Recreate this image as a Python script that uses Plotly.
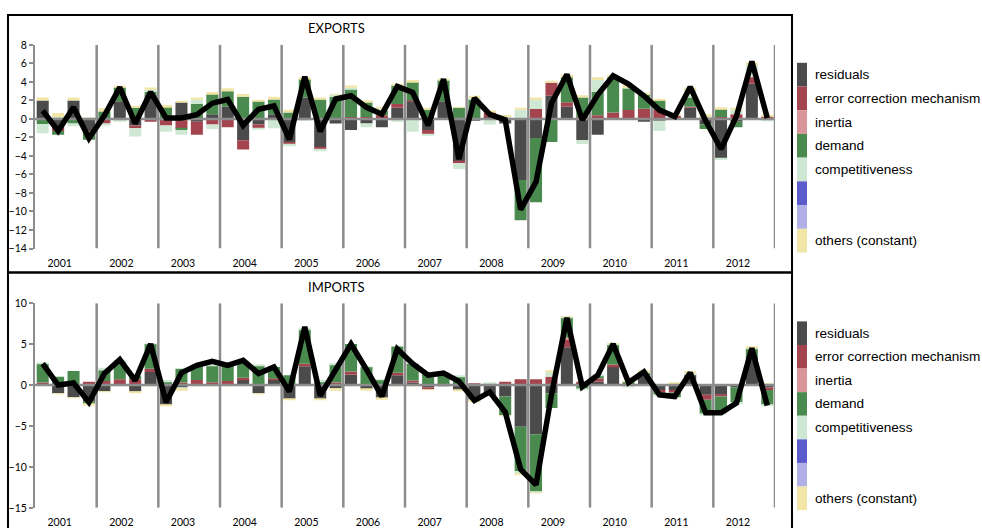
import plotly.graph_objects as go

# Quarterly contributions to growth, 2001Q1 .. 2012Q4 (48 quarters)
quarters = list(range(48))
years = [str(y) for y in range(2001, 2013)]

legend_labels = ["residuals", "error correction mechanism", "inertia", "demand",
                 "competitiveness", "", "", "others (constant)"]
legend_colors = ["#4b4b4b", "#a4444f", "#d8969b", "#4b8a4f", "#cfe8d3",
                 "#5b5bcc", "#b0afe6", "#f1e5a7"]

# ---- EXPORTS ----
exp_residuals = [2.0, -0.8, 2.0, -1.3, 0.0, 1.9, -0.7, 2.6, 0.0, 1.8, -0.3, 0.5,
                 1.3, -2.3, -0.6, 0.5, -2.5, 2.3, -3.1, -0.5, -1.2, -0.5, -0.9, 1.2,
                 1.9, -1.2, 1.9, -4.6, -0.2, 0.2, -0.5, -6.6, -2.05, 2.5, 1.3, -2.3,
                 -1.7, -0.1, 0.0, -0.3, -0.2, -0.1, 1.2, -0.6, -4.3, -0.3, 3.8, 0.1]
exp_ecm = [0.0, -0.5, 0.0, -0.05, -0.5, -0.2, -0.3, -0.3, -0.7, -1.0, -1.4, -0.6,
           -0.9, -1.0, -0.4, -0.1, -0.3, 0.0, -0.2, 0.0, 0.2, 0.2, 0.4, 0.4,
           0.1, -0.45, 0.0, -0.2, 0.0, 0.5, 0.1, 0.0, 1.1, 1.4, 0.5, 0.2,
           0.4, 0.7, 0.95, 1.1, 1.0, 0.35, 0.1, 0.2, 0.2, 0.5, 0.7, 0.15]
exp_inertia = [0.0] * 48
exp_demand = [-0.55, -0.4, -0.5, -0.9, 0.8, 1.5, 1.2, 0.3, 1.3, -0.2, 1.6, 2.2,
              1.7, 2.4, 1.9, 1.6, 0.7, 2.0, 2.1, 2.4, 3.0, 1.6, 0.5, 2.0,
              2.0, 1.0, 2.3, 1.2, 2.1, 0.0, 0.0, -4.35, -6.95, -2.5, 2.7, 2.1,
              2.5, 3.8, 2.4, 1.5, 1.0, 0.0, 1.0, -0.5, 0.85, -0.6, 0.0, 0.0]
exp_competitiveness = [-1.0, 0.2, -0.3, 0.0, -0.25, -0.1, -0.9, 0.3, -0.7, -0.5, 0.5, -0.5,
                       0.0, 0.0, -0.1, -0.9, -0.15, -0.15, -0.2, 0.2, 0.2, -0.4, 0.2, -0.3,
                       -1.4, -0.15, 0.0, -0.6, 0.2, -0.6, 0.1, 1.0, 0.95, 0.0, 0.0, -0.4,
                       1.3, 0.1, 0.1, 0.0, -1.1, 0.0, 0.9, 0.1, -0.15, 0.5, 1.3, -0.25]
exp_others = [0.3, 0.45, 0.3, 0.15, 0.35, 0.15, 0.2, 0.2, 0.2, 0.15, 0.2, 0.2,
              0.3, 0.3, 0.15, 0.3, 0.3, 0.2, 0.2, 0.1, 0.2, 0.2, 0.2, 0.2,
              0.2, 0.2, 0.1, 0.1, 0.15, 0.2, 0.25, 0.15, 0.25, 0.2, 0.3, 0.25,
              0.3, 0.15, 0.2, 0.2, 0.1, 0.1, 0.2, 0.2, 0.2, 0.2, 0.3, 0.2]
exp_total = [0.9, -1.3, 1.25, -2.1, 0.35, 3.4, -0.5, 2.9, 0.1, 0.1, 0.45, 1.7,
             2.1, -0.7, 1.05, 1.4, -2.2, 4.55, -1.35, 2.15, 2.5, 1.25, 0.5, 3.5,
             2.85, -0.7, 4.3, -4.35, 2.25, 0.5, -0.1, -9.8, -6.8, 1.7, 4.8, -0.1,
             2.6, 4.65, 3.75, 2.5, 0.95, 0.25, 3.45, -0.2, -3.25, 0.3, 6.2, 0.1]

# ---- IMPORTS ----
imp_residuals = [0.0, -1.0, -1.5, -2.0, -0.75, 0.0, -0.8, 1.6, -2.4, -0.3, 0.0, 0.0,
                 0.0, 0.7, -1.0, 0.6, -1.7, 2.3, -1.7, -0.4, 1.25, -0.5, -1.6, 1.2,
                 0.3, -0.3, -0.05, -0.6, -1.8, -1.3, -1.4, -5.1, -6.0, -1.0, 4.6, 0.2,
                 0.4, 2.3, 0.15, 1.2, -0.6, -0.6, 1.3, -1.2, -1.2, -0.3, 3.6, -0.3]
imp_ecm = [0.3, 0.0, 0.0, 0.4, 0.5, 0.7, 0.7, 0.4, 0.0, 0.3, 0.6, 0.35,
           0.5, 0.2, 0.0, 0.2, 0.0, 0.3, 0.0, 0.3, 0.4, 0.0, 0.0, 0.3,
           0.25, -0.25, 0.0, 0.0, 0.15, 0.15, 0.4, 0.7, 0.7, 1.0, 0.9, 0.2,
           0.4, 0.2, 0.0, 0.0, -0.3, -0.3, 0.0, -0.6, -0.2, 0.0, 0.0, -0.3]
imp_inertia = [0.0] * 34 + [0.3] + [0.0] * 13
imp_demand = [2.3, 1.0, 1.7, -0.3, 1.3, 2.2, 0.4, 3.0, 0.4, 1.7, 1.7, 2.0,
              1.9, 2.0, 2.4, 1.4, 1.2, 4.2, 0.4, 2.2, 3.35, 2.2, 0.6, 3.2,
              2.05, 1.6, 1.4, 1.0, 0.0, 0.0, -2.3, -5.4, -7.0, -1.8, 2.4, -0.5,
              0.3, 2.4, 0.25, 0.3, -0.3, -0.6, 0.0, -1.7, -2.0, -1.8, 0.9, -1.8]
imp_competitiveness = [0.1, 0.0, 0.0, 0.0, 0.3, 0.2, 0.2, 0.1, 0.2, -0.2, 0.0, 0.1,
                       0.0, 0.1, 0.1, 0.0, 0.0, 0.2, 0.2, 0.1, 0.0, 0.1, 0.1, 0.0,
                       0.0, 0.0, 0.1, 0.15, -0.1, 0.2, 0.0, -0.3, -0.1, 0.6, 0.1, -0.1,
                       0.15, 0.1, -0.3, 0.1, -0.1, 0.15, 0.15, -0.1, -0.1, -0.2, 0.1, -0.1]
imp_others = [0.0, -0.1, -0.1, -0.2, -0.1, -0.05, -0.1, -0.1, -0.2, -0.2, -0.1, -0.05,
              -0.1, 0.0, -0.1, 0.0, -0.1, 0.0, -0.1, -0.3, 0.0, -0.2, -0.2, -0.1,
              -0.1, -0.05, 0.0, -0.1, -0.2, -0.05, -0.1, -0.2, -0.1, 0.2, 0.1, 0.0,
              0.0, 0.1, 0.05, 0.1, 0.1, 0.1, 0.15, 0.1, 0.1, 0.1, 0.1, 0.2]
imp_total = [2.6, 0.0, 0.25, -2.1, 1.4, 3.1, 0.55, 5.0, -2.1, 1.5, 2.4, 2.9,
             2.4, 3.0, 1.4, 2.2, -0.8, 7.1, -1.3, 2.0, 5.0, 1.9, -1.4, 4.4,
             2.6, 1.2, 1.45, 0.45, -1.9, -0.85, -3.3, -10.3, -12.2, -1.2, 8.2, -0.2,
             1.2, 5.0, 0.3, 1.6, -1.2, -1.4, 1.5, -3.4, -3.4, -2.2, 4.5, -2.5]

W, H = 982, 528
GRAY = "#8c8c8c"


def ypos(px):
    """Vertical pixel position (from the top of the page) -> paper fraction."""
    return 1 - ((px - 5.1) / 0.975) / H


panels = [
    dict(title="EXPORTS", xa="x", ya="y", rng=[-14, 8], dtick=2,
         comps=[exp_residuals, exp_ecm, exp_inertia, exp_demand, exp_competitiveness, exp_others],
         total=exp_total, dom=[ypos(248), ypos(44)], title_y=27, box=(14, 272), leg=(62, 252)),
    dict(title="IMPORTS", xa="x2", ya="y2", rng=[-15, 10], dtick=5,
         comps=[imp_residuals, imp_ecm, imp_inertia, imp_demand, imp_competitiveness, imp_others],
         total=imp_total, dom=[ypos(507.7), ypos(302.7)], title_y=287, box=(272, 540), leg=(321, 510)),
]
comp_colors = [legend_colors[i] for i in (0, 1, 2, 3, 4, 7)]

fig = go.Figure()
shapes, annotations = [], []

for p in panels:
    for vals, col in zip(p["comps"], comp_colors):
        fig.add_trace(go.Bar(x=quarters, y=vals, marker=dict(color=col, line=dict(width=0)),
                             width=0.78, xaxis=p["xa"], yaxis=p["ya"], showlegend=False,
                             hoverinfo="skip"))
    # horizontal axis line at zero
    fig.add_trace(go.Scatter(x=[-0.5, 47.5], y=[0, 0], mode="lines",
                             line=dict(color=GRAY, width=2.5), xaxis=p["xa"], yaxis=p["ya"],
                             showlegend=False, hoverinfo="skip"))
    fig.add_trace(go.Scatter(x=quarters, y=p["total"], mode="lines",
                             line=dict(color="black", width=5.5), xaxis=p["xa"], yaxis=p["ya"],
                             showlegend=False))
    # year separators
    for k in range(12):
        xv = 4 * k + 3.5
        shapes.append(dict(type="line", xref=p["xa"], yref=p["ya"], x0=xv, x1=xv,
                           y0=p["rng"][0], y1=p["rng"][1], layer="below",
                           line=dict(color=GRAY, width=2.5)))
    # panel frame
    shapes.append(dict(type="rect", xref="paper", yref="paper", x0=8 / W, x1=792 / W,
                       y0=ypos(p["box"][1]), y1=ypos(p["box"][0]),
                       line=dict(color="black", width=2), fillcolor="rgba(0,0,0,0)"))
    annotations.append(dict(text=p["title"], xref="paper", yref="paper", x=336 / W,
                            y=ypos(p["title_y"]), showarrow=False, xanchor="center",
                            yanchor="middle", font=dict(family="Lato", size=13, color="black")))
    # colour-block legend
    top, bot = p["leg"]
    step = (bot - top) / len(legend_labels)
    for j, (lab, col) in enumerate(zip(legend_labels, legend_colors)):
        y0 = top + j * step
        shapes.append(dict(type="rect", xref="paper", yref="paper", x0=797 / W, x1=807 / W,
                           y0=ypos(y0 + step), y1=ypos(y0), line=dict(width=0),
                           fillcolor=col))
        if lab:
            annotations.append(dict(text=lab, xref="paper", yref="paper", x=813 / W,
                                    y=ypos(y0 + step / 2), showarrow=False,
                                    xanchor="left", yanchor="middle",
                                    font=dict(family="Liberation Sans", size=13.6, color="black")))

xdom = [35 / W, 775 / W]
xcommon = dict(domain=xdom, range=[-0.5, 47.5], tickvals=[4 * k + 1.1 for k in range(12)],
               ticktext=years, showgrid=False, zeroline=False, showline=False, ticks="",
               ticklabelstandoff=7, tickfont=dict(family="Lato", size=10.5, color="black"))
ycommon = dict(showgrid=False, zeroline=False, showline=True, linecolor=GRAY, linewidth=2,
               ticks="outside", ticklen=4, tickcolor=GRAY, tickwidth=1.5,
               tickfont=dict(family="Lato", size=10.5, color="black"))

fig.update_layout(
    width=W, height=H, margin=dict(l=0, r=0, t=0, b=0),
    paper_bgcolor="white", plot_bgcolor="white",
    barmode="relative", bargap=0.22,
    xaxis=dict(anchor="y", **xcommon),
    xaxis2=dict(anchor="y2", **xcommon),
    yaxis=dict(anchor="x", domain=panels[0]["dom"], range=panels[0]["rng"],
               dtick=panels[0]["dtick"], **ycommon),
    yaxis2=dict(anchor="x2", domain=panels[1]["dom"], range=panels[1]["rng"],
                dtick=panels[1]["dtick"], **ycommon),
    shapes=shapes, annotations=annotations,
)

fig.write_html("out.html")
